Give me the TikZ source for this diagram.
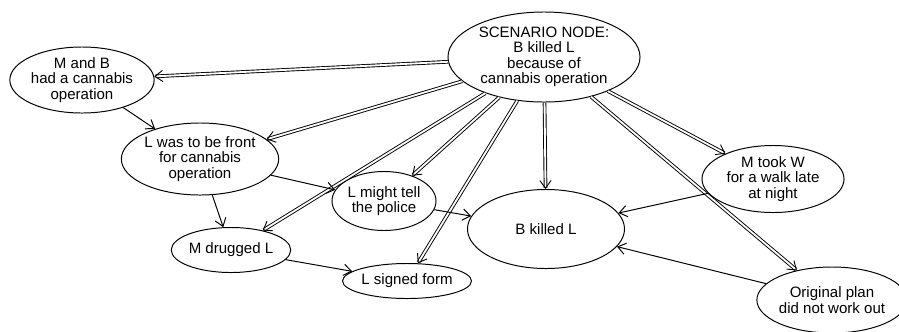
\documentclass[tikz,border=0pt]{standalone}
\usepackage{fontspec}
\setmainfont{Liberation Sans}
\usetikzlibrary{arrows.meta,shapes.geometric}
\begin{document}
\begin{tikzpicture}[x=0.025cm, y=-0.025cm,
    event/.style={ellipse, draw, line width=0.7pt, inner sep=0pt, align=center,
                  font=\fontsize{10.7}{11}\selectfont},
    link/.style={line width=0.7pt, -{Straight Barb[length=5.5pt,width=8pt]}},
    support/.style={link, double, double distance=1.3pt, line width=0.65pt}]
    \useasboundingbox (0,0) rectangle (899,331);
    %% the scenario and its parts
    \node[event, minimum width=4.8cm, minimum height=2.25cm] (scen) at (544,57)
        {SCENARIO NODE:\\B killed L\\because of\\cannabis operation};
    \node[event, minimum width=3.6cm, minimum height=1.65cm] (mb) at (82,80)
        {M and B\\had a cannabis\\operation};
    \node[event, minimum width=3.35cm, minimum height=1.8cm] (front) at (200,159)
        {L was to be front\\for cannabis\\operation};
    \node[event, minimum width=2.6cm, minimum height=1.475cm] (tell) at (384,201)
        {L might tell\\the police};
    \node[event, minimum width=2.6cm, minimum height=1.125cm] (drug) at (231,250)
        {M drugged L};
    \node[event, minimum width=2.75cm, minimum height=0.875cm] (signed) at (407,281)
        {L signed form};
    \node[event, minimum width=3.925cm, minimum height=1.975cm] (killed) at (546,229)
        {B killed L};
    \node[event, minimum width=3.55cm, minimum height=1.675cm] (walk) at (773,179)
        {M took W\\for a walk late\\at night};
    \node[event, minimum width=3.5cm, minimum height=1.65cm] (plan) at (832,300)
        {Original plan\\did not work out};
    %% scenario node supports each event
    \draw[support] (scen) -- (mb);
    \draw[support] (scen) -- (front);
    \draw[support] (scen) -- (drug);
    \draw[support] (scen) -- (tell);
    \draw[support] (scen) -- (signed);
    \draw[support] (scen) -- (killed);
    \draw[support] (scen) -- (walk);
    \draw[support] (scen) -- (plan);
    %% causal links
    \draw[link] (mb) -- (front);
    \draw[link] (front) -- (drug);
    \draw[link] (front) -- (tell);
    \draw[link] (drug) -- (signed);
    \draw[link] (tell) -- (killed);
    \draw[link] (walk) -- (killed);
    \draw[link] (plan) -- (killed);
\end{tikzpicture}
\end{document}
